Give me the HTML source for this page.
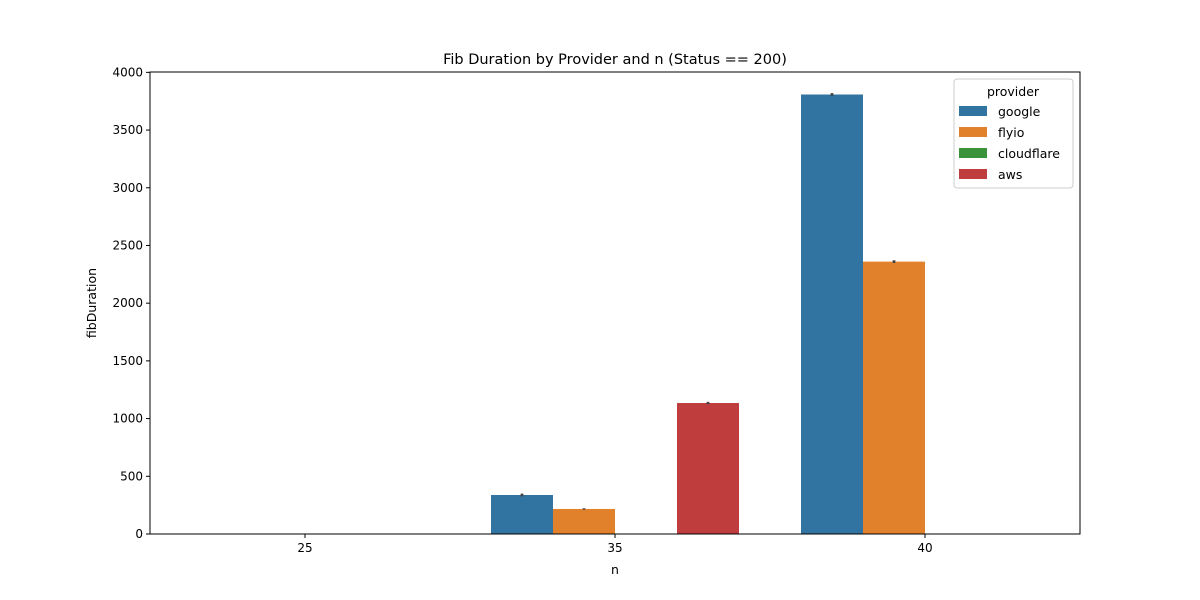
<!DOCTYPE html>
<html><head><meta charset="utf-8"><style>
html,body{margin:0;padding:0;background:#fff;overflow:hidden;width:1200px;height:600px}
svg{display:block}
text{font-family:"DejaVu Sans","Liberation Sans",sans-serif}
</style></head><body>
<svg id="c" width="1200" height="600"></svg>
<script>
const categories=["25","35","40"];
const providers=["google","flyio","cloudflare","aws"];
const colors=["#3274a1","#e1812c","#3a923a","#c03d3e"];
const googleVals=[null,338,3808];
const flyioVals=[null,217,2360];
const cloudflareVals=[null,null,null];
const awsVals=[null,1135,null];
const errs=[[0,12,12],[0,6,12],[0,0,0],[0,10,0]];
const yTicks=[0,500,1000,1500,2000,2500,3000,3500,4000];
const series=[googleVals,flyioVals,cloudflareVals,awsVals];
const L=150,R=1080,T=72,B=534,yMax=4003;
const NS="http://www.w3.org/2000/svg";
const svg=document.getElementById('c');
function y(v){return B-(v/yMax)*(B-T);}
const step=(R-L)/categories.length;
function xc(i){return L+step*(i+0.5);}
function mk(t,a){const e=document.createElementNS(NS,t);for(const k in a)e.setAttribute(k,a[k]);svg.appendChild(e);return e;}
const bw=step*0.8/providers.length;
series.forEach((s,si)=>{s.forEach((v,ci)=>{if(v==null)return;
 const x=xc(ci)-step*0.4+si*bw;
 const r=mk('rect',{x:x,y:y(v),width:bw,height:B-y(v),fill:colors[si]});
 
 
 const e=errs[si][ci];
 const l=mk('line',{x1:x+bw/2,x2:x+bw/2,y1:y(v+e),y2:y(v-e),stroke:'#424242','stroke-width':2.7});
 
 
});});
const ax=mk('rect',{x:L,y:T,width:R-L,height:B-T,fill:'none',stroke:'#000','stroke-width':1});


yTicks.forEach(t=>{mk('line',{x1:L-4,x2:L,y1:y(t),y2:y(t),stroke:'#000'});
 const tx=mk('text',{x:L-7,y:y(t)+4,'text-anchor':'end','font-size':12});tx.textContent=t;
 
 });
categories.forEach((c,i)=>{mk('line',{x1:xc(i),x2:xc(i),y1:B,y2:B+4,stroke:'#000'});
 const tx=mk('text',{x:xc(i),y:B+18,'text-anchor':'middle','font-size':12});tx.textContent=c;
 
 });
let t=mk('text',{x:615,y:64,'text-anchor':'middle','font-size':14.5});t.textContent='Fib Duration by Provider and n (Status == 200)';


t=mk('text',{x:615,y:574,'text-anchor':'middle','font-size':12.5});t.textContent='n';


t=mk('text',{x:96,y:303,'text-anchor':'middle','font-size':12.5,transform:'rotate(-90 96 303)'});t.textContent='fibDuration';


const lg=mk('rect',{x:954,y:79,width:119,height:109,rx:3,fill:'#fff',stroke:'#ccc'});


t=mk('text',{x:1013,y:96,'text-anchor':'middle','font-size':12.5});t.textContent='provider';


providers.forEach((p,i)=>{const yy=106+i*21;
 const r=mk('rect',{x:959,y:yy,width:28,height:10,fill:colors[i]});
 
 
 const tx=mk('text',{x:998,y:yy+10,'font-size':12.5});tx.textContent=p;
 
 });
</script>
</body></html>
